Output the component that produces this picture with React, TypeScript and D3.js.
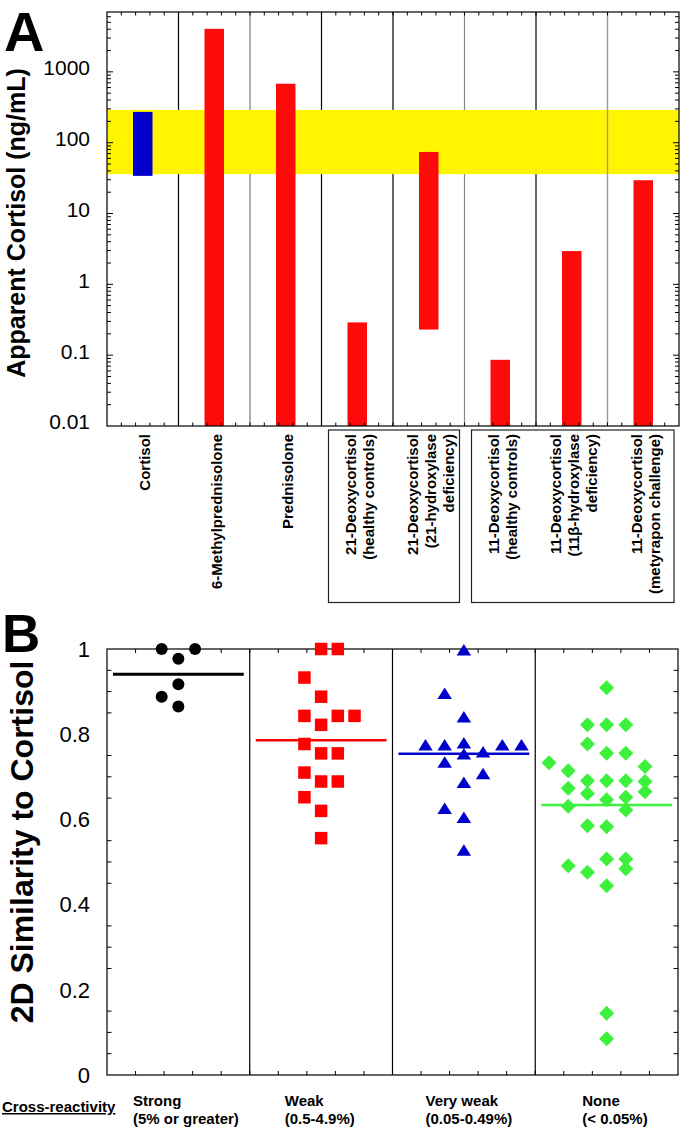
import React from "react";
import * as d3 from "d3";

// ---------------- Panel A data ----------------
const compoundsA = [
  "Cortisol",
  "6-Methylprednisolone",
  "Prednisolone",
  "21-Deoxycortisol (healthy controls)",
  "21-Deoxycortisol (21-hydroxylase deficiency)",
  "11-Deoxycortisol (healthy controls)",
  "11-Deoxycortisol (11β-hydroxylase deficiency)",
  "11-Deoxycortisol (metyrapon challenge)",
];
const compoundLabelLines = [
  ["Cortisol"],
  ["6-Methylprednisolone"],
  ["Prednisolone"],
  ["21-Deoxycortisol", "(healthy controls)"],
  ["21-Deoxycortisol", "(21-hydroxylase", "deficiency)"],
  ["11-Deoxycortisol", "(healthy controls)"],
  ["11-Deoxycortisol", "(11β-hydroxylase", "deficiency)"],
  ["11-Deoxycortisol", "(metyrapon challenge)"],
];
const apparentLow = [34, 0.01, 0.01, 0.01, 0.23, 0.01, 0.01, 0.01];
const apparentHigh = [272, 4050, 680, 0.29, 74, 0.086, 2.95, 29.5];
const cortisolRefRange = [36, 290];
const yTickValuesA = [0.01, 0.1, 1, 10, 100, 1000];
const yTickLabelsA = ["0.01", "0.1", "1", "10", "100", "1000"];
const labelBoxesA = [
  [3, 4],
  [5, 7],
];

// ---------------- Panel B data ----------------
const groupsB = ["Strong", "Weak", "Very weak", "None"];
const groupRangesB = ["(5% or greater)", "(0.5-4.9%)", "(0.05-0.49%)", "(< 0.05%)"];

const strongValues = [1.0, 1.0, 0.977, 0.917, 0.888, 0.865];
const strongCols = [-1, 1, 0, 0, -1, 0];

const weakValues = [1.0, 1.0, 0.933, 0.888, 0.843, 0.843, 0.843, 0.822, 0.777, 0.755, 0.755, 0.71, 0.689, 0.689, 0.652, 0.62, 0.556];
const weakCols = [0, 1, -1, 0, -1, 1, 2, 0, -1, 0, 1, -1, 0, 1, -1, 0, 0];

const veryWeakValues = [0.998, 0.896, 0.841, 0.775, 0.775, 0.78, 0.759, 0.775, 0.775, 0.754, 0.735, 0.708, 0.687, 0.626, 0.605, 0.528];
const veryWeakCols = [0, -1, 0, -2, -1, 0, 1, 2, 3, 0, -1, 1, 0, -1, 0, 0];

const noneValues = [0.909, 0.822, 0.822, 0.822, 0.777, 0.755, 0.755, 0.733, 0.724, 0.714, 0.691, 0.691, 0.691, 0.689, 0.673, 0.661, 0.665, 0.646, 0.652, 0.631, 0.622, 0.585, 0.583, 0.491, 0.476, 0.507, 0.507, 0.484, 0.444, 0.145, 0.085];
const noneCols = [0, -1, 0, 1, -1, 0, 1, -3, 2, -2, -1, 0, 1, 2, -2, -1, 2, 0, 1, -2, 1, -1, 0, -2, -1, 0, 1, 1, 0, 0, 0];

const groupMeans = [0.941, 0.786, 0.754, 0.634];
const yTickValuesB = [0, 0.2, 0.4, 0.6, 0.8, 1];
const yTickLabelsB = ["0", "0.2", "0.4", "0.6", "0.8", "1"];

// ---------------- styles ----------------
const FONT = "'Liberation Sans', Arial, Helvetica, sans-serif";
const sepColorsA = ["#000", "#777", "#000", "#000", "#888", "#000", "#999"];
const sepOverBand = [false, false, false, false, false, false, true];
const groupColors = ["#000000", "#ff0000", "#0000cc", "#3cf03c"];
const colSpacingFrac = [0.117, 0.117, 0.1345, 0.1345];
const xLabelInsetB = [26, 35, 33, 47];

export default function App() {
  // ---- Panel A ----
  const A = { l: 107, r: 679, t: 12, b: 426 };
  const xA = d3.scaleBand<string>().domain(compoundsA).range([A.l, A.r]);
  const yA = d3.scaleLog().domain([0.01, 7000]).range([A.b, A.t]);
  const bwA = xA.bandwidth();
  const barW = 19.5;

  const minorLogA: number[] = [];
  for (let e = -2; e <= 3; e++) {
    for (let m = 2; m <= 9; m++) {
      const v = m * Math.pow(10, e);
      if (v < 6999) minorLogA.push(v);
    }
  }
  const majorLogA = yTickValuesA.filter((v) => v > 0.0101);
  const xTicksA = d3.range(1, 40).map((k) => A.l + (k * bwA) / 5);
  const sepsA = d3.range(1, compoundsA.length).map((i) => xA(compoundsA[i]) as number);

  // ---- Panel B ----
  const B = { l: 107, r: 678, t: 649, b: 1075 };
  const xB = d3.scaleBand<string>().domain(groupsB).range([B.l, B.r]);
  const yB = d3.scaleLinear().domain([0, 1]).range([B.b, B.t]);
  const bwB = xB.bandwidth();
  const xTicksB = d3.range(1, 20).map((k) => B.l + (k * bwB) / 5);
  const sepsB = d3.range(1, groupsB.length).map((i) => xB(groupsB[i]) as number);
  const minorB = d3.range(1, 20).map((k) => k * 0.05).filter((v) => Math.abs(v / 0.2 - Math.round(v / 0.2)) > 0.01);

  const groupVals = [strongValues, weakValues, veryWeakValues, noneValues];
  const groupCols = [strongCols, weakCols, veryWeakCols, noneCols];

  const circlePath = d3.symbol(d3.symbolCircle, Math.PI * 6 * 6)();
  const squarePath = d3.symbol(d3.symbolSquare, 12.5 * 12.5)();
  const diamondPath = d3.symbol(d3.symbolSquare, 10.6 * 10.6)();
  const triPath = (() => {
    const w = 14.5, h = 11.5;
    return `M0,${-h / 2}L${w / 2},${h / 2}L${-w / 2},${h / 2}Z`;
  })();

  const marker = (gi: number, cx: number, cy: number, key: string) => {
    const fill = groupColors[gi];
    if (gi === 0) return <path key={key} d={circlePath as string} transform={`translate(${cx},${cy})`} fill={fill} />;
    if (gi === 1) return <path key={key} d={squarePath as string} transform={`translate(${cx},${cy})`} fill={fill} />;
    if (gi === 2) return <path key={key} d={triPath} transform={`translate(${cx},${cy})`} fill={fill} />;
    return <path key={key} d={diamondPath as string} transform={`translate(${cx},${cy}) rotate(45)`} fill={fill} />;
  };

  const lineGap = 18;

  return (
    <svg
      width={685}
      height={1131}
      viewBox="0 0 685 1131"
      style={{ position: "absolute", left: 0, top: 0, background: "#fff" }}
      fontFamily={FONT}
    >
      <rect x={0} y={0} width={685} height={1131} fill="#fff" />

      {/* ================= Panel A ================= */}
      <text x={4} y={51} fontSize={56} fontWeight="bold" fill="#000">A</text>

      {/* separators */}
      {sepsA.map((x, i) =>
        sepOverBand[i] ? null : (
          <line key={"sa" + i} x1={x} x2={x} y1={A.t} y2={A.b} stroke={sepColorsA[i]} strokeWidth={1.2} />
        )
      )}

      {/* reference band */}
      <rect
        x={A.l}
        width={A.r - A.l}
        y={yA(cortisolRefRange[1])}
        height={yA(cortisolRefRange[0]) - yA(cortisolRefRange[1])}
        fill="#fff500"
      />
      {sepsA.map((x, i) =>
        sepOverBand[i] ? (
          <line key={"sb" + i} x1={x} x2={x} y1={A.t} y2={A.b} stroke={sepColorsA[i]} strokeWidth={1.4} />
        ) : null
      )}

      {/* bars */}
      {compoundsA.map((c, i) => {
        const cx = (xA(c) as number) + bwA / 2;
        const y1 = yA(apparentHigh[i]);
        const y0 = yA(apparentLow[i]);
        return (
          <rect
            key={"bar" + i}
            x={cx - barW / 2}
            width={barW}
            y={y1}
            height={y0 - y1}
            fill={i === 0 ? "#0000cc" : "#ff0a0a"}
          />
        );
      })}

      {/* frame & ticks */}
      <rect x={A.l} y={A.t} width={A.r - A.l} height={A.b - A.t} fill="none" stroke="#000" strokeWidth={1.2} />
      {xTicksA.map((x, i) => (
        <g key={"xta" + i}>
          <line x1={x} x2={x} y1={A.t} y2={A.t + 3.5} stroke="#000" strokeWidth={1} />
          <line x1={x} x2={x} y1={A.b} y2={A.b - 3.5} stroke="#000" strokeWidth={1} />
        </g>
      ))}
      {minorLogA.map((v, i) => (
        <g key={"mla" + i}>
          <line x1={A.l} x2={A.l + 4} y1={yA(v)} y2={yA(v)} stroke="#000" strokeWidth={1} />
          <line x1={A.r} x2={A.r - 4} y1={yA(v)} y2={yA(v)} stroke="#000" strokeWidth={1} />
        </g>
      ))}
      {majorLogA.map((v, i) => (
        <g key={"mja" + i}>
          <line x1={A.l} x2={A.l + 6} y1={yA(v)} y2={yA(v)} stroke="#000" strokeWidth={1} />
          <line x1={A.r} x2={A.r - 6} y1={yA(v)} y2={yA(v)} stroke="#000" strokeWidth={1} />
        </g>
      ))}

      {/* y tick labels */}
      {yTickValuesA.map((v, i) => (
        <text key={"yla" + i} x={90} y={yA(v) - 4} dy="0.35em" textAnchor="end" fontSize={21} fill="#000">
          {yTickLabelsA[i]}
        </text>
      ))}
      <text
        transform={`translate(25,223) rotate(-90)`}
        textAnchor="middle"
        fontSize={25}
        fontWeight="bold"
        fill="#000"
      >
        Apparent Cortisol (ng/mL)
      </text>

      {/* x labels */}
      {compoundsA.map((c, i) => {
        const lines = compoundLabelLines[i];
        const cx = (xA(c) as number) + bwA / 2 + 2;
        return lines.map((ln, j) => {
          const xc = cx + (j - (lines.length - 1) / 2) * lineGap;
          return (
            <text
              key={"xl" + i + "_" + j}
              transform={`translate(${xc + 5.5},434) rotate(-90)`}
              textAnchor="end"
              fontSize={15}
              fontWeight="bold"
              fill="#000"
            >
              {ln}
            </text>
          );
        });
      })}
      {labelBoxesA.map(([a, b], i) => {
        const x0 = (xA(compoundsA[a]) as number) + 7;
        const x1 = (xA(compoundsA[b]) as number) + bwA - 5;
        return (
          <rect key={"box" + i} x={x0} y={430} width={x1 - x0} height={172.5} fill="none" stroke="#222" strokeWidth={1.2} />
        );
      })}

      {/* ================= Panel B ================= */}
      <text x={2} y={652} fontSize={53} fontWeight="bold" fill="#000">B</text>

      {sepsB.map((x, i) => (
        <line key={"sepb" + i} x1={x} x2={x} y1={B.t} y2={B.b} stroke="#000" strokeWidth={1.2} />
      ))}
      <rect x={B.l} y={B.t} width={B.r - B.l} height={B.b - B.t} fill="none" stroke="#000" strokeWidth={1.2} />
      {xTicksB.map((x, i) => (
        <g key={"xtb" + i}>
          <line x1={x} x2={x} y1={B.t} y2={B.t + 4} stroke="#000" strokeWidth={1} />
          <line x1={x} x2={x} y1={B.b} y2={B.b - 4} stroke="#000" strokeWidth={1} />
        </g>
      ))}
      {minorB.map((v, i) => (
        <g key={"ytb" + i}>
          <line x1={B.l} x2={B.l + 4.5} y1={yB(v)} y2={yB(v)} stroke="#000" strokeWidth={1} />
          <line x1={B.r} x2={B.r - 4.5} y1={yB(v)} y2={yB(v)} stroke="#000" strokeWidth={1} />
        </g>
      ))}
      {yTickValuesB.map((v, i) => (
        <text key={"ylb" + i} x={90} y={yB(v)} dy="0.35em" textAnchor="end" fontSize={22} fill="#000">
          {yTickLabelsB[i]}
        </text>
      ))}
      <text
        transform={`translate(33,842) rotate(-90)`}
        textAnchor="middle"
        fontSize={32}
        fontWeight="bold"
        fill="#000"
      >
        2D Similarity to Cortisol
      </text>

      {/* mean lines */}
      {groupsB.map((g, gi) => {
        const x0 = (xB(g) as number) + 6;
        const x1 = (xB(g) as number) + bwB - 6;
        return (
          <line
            key={"mean" + gi}
            x1={x0}
            x2={x1}
            y1={yB(groupMeans[gi])}
            y2={yB(groupMeans[gi])}
            stroke={groupColors[gi]}
            strokeWidth={gi === 0 ? 3 : 2.5}
          />
        );
      })}

      {/* markers */}
      {groupsB.map((g, gi) => {
        const cx0 = (xB(g) as number) + bwB / 2;
        const sp = bwB * colSpacingFrac[gi];
        return groupVals[gi].map((v, k) =>
          marker(gi, cx0 + groupCols[gi][k] * sp, yB(v), "m" + gi + "_" + k)
        );
      })}

      {/* x labels B */}
      <text x={2} y={1112} fontSize={15} fontWeight="bold" fill="#000" textDecoration="underline">
        Cross-reactivity
      </text>
      {groupsB.map((g, gi) => {
        const x = (xB(g) as number) + xLabelInsetB[gi];
        return (
          <g key={"gl" + gi}>
            <text x={x} y={1106} fontSize={15} fontWeight="bold" fill="#000">{g}</text>
            <text x={x} y={1124} fontSize={15} fontWeight="bold" fill="#000">{groupRangesB[gi]}</text>
          </g>
        );
      })}
    </svg>
  );
}
